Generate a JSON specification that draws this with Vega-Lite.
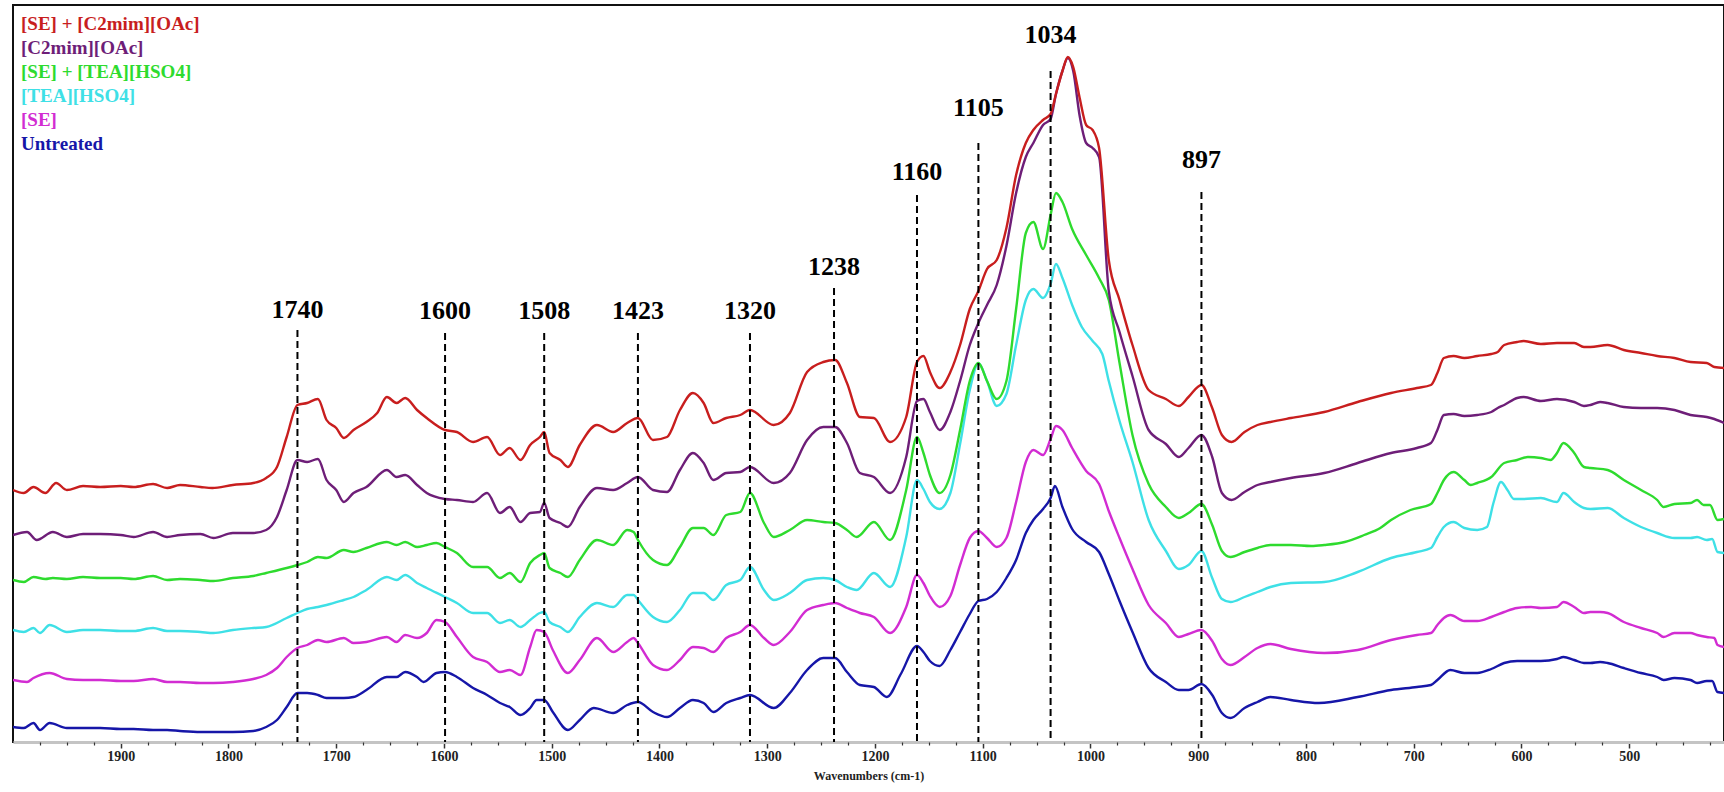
{
"$schema": "https://vega.github.io/schema/vega-lite/v6.json",
"width": 1711,
"height": 737,
"autosize": {"type": "none"},
"padding": {"left": 13, "top": 5, "right": 0, "bottom": 50},
"background": "#ffffff",
"config": {"view": {"stroke": "#111111", "strokeWidth": 2}},
"resolve": {"axis": {"x": "independent"}},
"datasets": {
"peaks": [
{"label":"1740","pos":1736,"top":412,"ly":424},
{"label":"1600","pos":1599,"top":409,"ly":423},
{"label":"1508","pos":1507,"top":409,"ly":423},
{"label":"1423","pos":1420,"top":409,"ly":423},
{"label":"1320","pos":1316,"top":409,"ly":423},
{"label":"1238","pos":1238,"top":454,"ly":467},
{"label":"1160","pos":1161,"top":547,"ly":562},
{"label":"1105","pos":1104,"top":599,"ly":626},
{"label":"1034","pos":1037,"top":671,"ly":699},
{"label":"897","pos":897,"top":550,"ly":574}
],
"spectra": [
{"sample":"Untreated","wavenumber":2000,"absorbance":15},{"sample":"Untreated","wavenumber":1990,"absorbance":14},{"sample":"Untreated","wavenumber":1981,"absorbance":19},{"sample":"Untreated","wavenumber":1975,"absorbance":12},{"sample":"Untreated","wavenumber":1966,"absorbance":19},{"sample":"Untreated","wavenumber":1950,"absorbance":14},{"sample":"Untreated","wavenumber":1935,"absorbance":14},{"sample":"Untreated","wavenumber":1919,"absorbance":14},{"sample":"Untreated","wavenumber":1900,"absorbance":13},{"sample":"Untreated","wavenumber":1888,"absorbance":13},{"sample":"Untreated","wavenumber":1870,"absorbance":12},{"sample":"Untreated","wavenumber":1857,"absorbance":12},{"sample":"Untreated","wavenumber":1845,"absorbance":11},{"sample":"Untreated","wavenumber":1826,"absorbance":10},{"sample":"Untreated","wavenumber":1814,"absorbance":10},{"sample":"Untreated","wavenumber":1796,"absorbance":10},{"sample":"Untreated","wavenumber":1777,"absorbance":11},{"sample":"Untreated","wavenumber":1765,"absorbance":15},{"sample":"Untreated","wavenumber":1755,"absorbance":22},{"sample":"Untreated","wavenumber":1746,"absorbance":35},{"sample":"Untreated","wavenumber":1736,"absorbance":49},{"sample":"Untreated","wavenumber":1727,"absorbance":49},{"sample":"Untreated","wavenumber":1717,"absorbance":47},{"sample":"Untreated","wavenumber":1709,"absorbance":44},{"sample":"Untreated","wavenumber":1693,"absorbance":44},{"sample":"Untreated","wavenumber":1684,"absorbance":45},{"sample":"Untreated","wavenumber":1672,"absorbance":52},{"sample":"Untreated","wavenumber":1653,"absorbance":65},{"sample":"Untreated","wavenumber":1644,"absorbance":65},{"sample":"Untreated","wavenumber":1636,"absorbance":70},{"sample":"Untreated","wavenumber":1625,"absorbance":65},{"sample":"Untreated","wavenumber":1619,"absorbance":60},{"sample":"Untreated","wavenumber":1607,"absorbance":69},{"sample":"Untreated","wavenumber":1599,"absorbance":70},{"sample":"Untreated","wavenumber":1588,"absorbance":65},{"sample":"Untreated","wavenumber":1573,"absorbance":54},{"sample":"Untreated","wavenumber":1560,"absorbance":47},{"sample":"Untreated","wavenumber":1548,"absorbance":39},{"sample":"Untreated","wavenumber":1539,"absorbance":35},{"sample":"Untreated","wavenumber":1529,"absorbance":27},{"sample":"Untreated","wavenumber":1520,"absorbance":34},{"sample":"Untreated","wavenumber":1514,"absorbance":42},{"sample":"Untreated","wavenumber":1507,"absorbance":42},{"sample":"Untreated","wavenumber":1499,"absorbance":30},{"sample":"Untreated","wavenumber":1485,"absorbance":12},{"sample":"Untreated","wavenumber":1474,"absorbance":22},{"sample":"Untreated","wavenumber":1461,"absorbance":34},{"sample":"Untreated","wavenumber":1443,"absorbance":29},{"sample":"Untreated","wavenumber":1430,"absorbance":37},{"sample":"Untreated","wavenumber":1420,"absorbance":40},{"sample":"Untreated","wavenumber":1406,"absorbance":30},{"sample":"Untreated","wavenumber":1393,"absorbance":25},{"sample":"Untreated","wavenumber":1381,"absorbance":34},{"sample":"Untreated","wavenumber":1369,"absorbance":42},{"sample":"Untreated","wavenumber":1359,"absorbance":39},{"sample":"Untreated","wavenumber":1350,"absorbance":30},{"sample":"Untreated","wavenumber":1338,"absorbance":39},{"sample":"Untreated","wavenumber":1325,"absorbance":44},{"sample":"Untreated","wavenumber":1316,"absorbance":47},{"sample":"Untreated","wavenumber":1294,"absorbance":34},{"sample":"Untreated","wavenumber":1279,"absorbance":49},{"sample":"Untreated","wavenumber":1263,"absorbance":72},{"sample":"Untreated","wavenumber":1248,"absorbance":84},{"sample":"Untreated","wavenumber":1237,"absorbance":84},{"sample":"Untreated","wavenumber":1226,"absorbance":70},{"sample":"Untreated","wavenumber":1214,"absorbance":57},{"sample":"Untreated","wavenumber":1201,"absorbance":55},{"sample":"Untreated","wavenumber":1189,"absorbance":45},{"sample":"Untreated","wavenumber":1176,"absorbance":68},{"sample":"Untreated","wavenumber":1161,"absorbance":96},{"sample":"Untreated","wavenumber":1155,"absorbance":90},{"sample":"Untreated","wavenumber":1149,"absorbance":81},{"sample":"Untreated","wavenumber":1140,"absorbance":76},{"sample":"Untreated","wavenumber":1130,"absorbance":92},{"sample":"Untreated","wavenumber":1121,"absorbance":110},{"sample":"Untreated","wavenumber":1112,"absorbance":128},{"sample":"Untreated","wavenumber":1104,"absorbance":141},{"sample":"Untreated","wavenumber":1096,"absorbance":143},{"sample":"Untreated","wavenumber":1087,"absorbance":150},{"sample":"Untreated","wavenumber":1078,"absorbance":164},{"sample":"Untreated","wavenumber":1069,"absorbance":182},{"sample":"Untreated","wavenumber":1060,"absorbance":209},{"sample":"Untreated","wavenumber":1053,"absorbance":222},{"sample":"Untreated","wavenumber":1044,"absorbance":233},{"sample":"Untreated","wavenumber":1037,"absorbance":244},{"sample":"Untreated","wavenumber":1033,"absorbance":256},{"sample":"Untreated","wavenumber":1026,"absorbance":235},{"sample":"Untreated","wavenumber":1017,"absorbance":213},{"sample":"Untreated","wavenumber":1004,"absorbance":200},{"sample":"Untreated","wavenumber":992,"absorbance":190},{"sample":"Untreated","wavenumber":983,"absorbance":168},{"sample":"Untreated","wavenumber":973,"absorbance":141},{"sample":"Untreated","wavenumber":961,"absorbance":110},{"sample":"Untreated","wavenumber":946,"absorbance":74},{"sample":"Untreated","wavenumber":930,"absorbance":60},{"sample":"Untreated","wavenumber":918,"absorbance":52},{"sample":"Untreated","wavenumber":909,"absorbance":52},{"sample":"Untreated","wavenumber":897,"absorbance":58},{"sample":"Untreated","wavenumber":887,"absorbance":47},{"sample":"Untreated","wavenumber":878,"absorbance":29},{"sample":"Untreated","wavenumber":870,"absorbance":24},{"sample":"Untreated","wavenumber":857,"absorbance":34},{"sample":"Untreated","wavenumber":845,"absorbance":40},{"sample":"Untreated","wavenumber":833,"absorbance":45},{"sample":"Untreated","wavenumber":814,"absorbance":42},{"sample":"Untreated","wavenumber":788,"absorbance":39},{"sample":"Untreated","wavenumber":752,"absorbance":45},{"sample":"Untreated","wavenumber":721,"absorbance":52},{"sample":"Untreated","wavenumber":697,"absorbance":55},{"sample":"Untreated","wavenumber":684,"absorbance":57},{"sample":"Untreated","wavenumber":678,"absorbance":62},{"sample":"Untreated","wavenumber":666,"absorbance":72},{"sample":"Untreated","wavenumber":653,"absorbance":69},{"sample":"Untreated","wavenumber":641,"absorbance":69},{"sample":"Untreated","wavenumber":628,"absorbance":73},{"sample":"Untreated","wavenumber":616,"absorbance":79},{"sample":"Untreated","wavenumber":604,"absorbance":81},{"sample":"Untreated","wavenumber":582,"absorbance":81},{"sample":"Untreated","wavenumber":567,"absorbance":83},{"sample":"Untreated","wavenumber":561,"absorbance":85},{"sample":"Untreated","wavenumber":551,"absorbance":82},{"sample":"Untreated","wavenumber":542,"absorbance":79},{"sample":"Untreated","wavenumber":536,"absorbance":79},{"sample":"Untreated","wavenumber":527,"absorbance":80},{"sample":"Untreated","wavenumber":520,"absorbance":79},{"sample":"Untreated","wavenumber":505,"absorbance":74},{"sample":"Untreated","wavenumber":489,"absorbance":69},{"sample":"Untreated","wavenumber":474,"absorbance":65},{"sample":"Untreated","wavenumber":468,"absorbance":62},{"sample":"Untreated","wavenumber":458,"absorbance":64},{"sample":"Untreated","wavenumber":443,"absorbance":62},{"sample":"Untreated","wavenumber":437,"absorbance":59},{"sample":"Untreated","wavenumber":428,"absorbance":61},{"sample":"Untreated","wavenumber":423,"absorbance":61},{"sample":"Untreated","wavenumber":418,"absorbance":50},{"sample":"Untreated","wavenumber":412,"absorbance":49},

{"sample":"[SE]","wavenumber":2000,"absorbance":62},{"sample":"[SE]","wavenumber":1987,"absorbance":60},{"sample":"[SE]","wavenumber":1981,"absorbance":64},{"sample":"[SE]","wavenumber":1966,"absorbance":69},{"sample":"[SE]","wavenumber":1950,"absorbance":63},{"sample":"[SE]","wavenumber":1935,"absorbance":62},{"sample":"[SE]","wavenumber":1919,"absorbance":62},{"sample":"[SE]","wavenumber":1900,"absorbance":61},{"sample":"[SE]","wavenumber":1888,"absorbance":61},{"sample":"[SE]","wavenumber":1870,"absorbance":63},{"sample":"[SE]","wavenumber":1857,"absorbance":60},{"sample":"[SE]","wavenumber":1845,"absorbance":60},{"sample":"[SE]","wavenumber":1826,"absorbance":59},{"sample":"[SE]","wavenumber":1814,"absorbance":59},{"sample":"[SE]","wavenumber":1796,"absorbance":60},{"sample":"[SE]","wavenumber":1777,"absorbance":63},{"sample":"[SE]","wavenumber":1765,"absorbance":67},{"sample":"[SE]","wavenumber":1755,"absorbance":74},{"sample":"[SE]","wavenumber":1746,"absorbance":85},{"sample":"[SE]","wavenumber":1736,"absorbance":94},{"sample":"[SE]","wavenumber":1727,"absorbance":97},{"sample":"[SE]","wavenumber":1717,"absorbance":102},{"sample":"[SE]","wavenumber":1709,"absorbance":100},{"sample":"[SE]","wavenumber":1693,"absorbance":104},{"sample":"[SE]","wavenumber":1684,"absorbance":99},{"sample":"[SE]","wavenumber":1672,"absorbance":100},{"sample":"[SE]","wavenumber":1653,"absorbance":105},{"sample":"[SE]","wavenumber":1644,"absorbance":100},{"sample":"[SE]","wavenumber":1636,"absorbance":107},{"sample":"[SE]","wavenumber":1625,"absorbance":104},{"sample":"[SE]","wavenumber":1616,"absorbance":109},{"sample":"[SE]","wavenumber":1607,"absorbance":122},{"sample":"[SE]","wavenumber":1599,"absorbance":120},{"sample":"[SE]","wavenumber":1588,"absorbance":105},{"sample":"[SE]","wavenumber":1573,"absorbance":85},{"sample":"[SE]","wavenumber":1560,"absorbance":80},{"sample":"[SE]","wavenumber":1548,"absorbance":70},{"sample":"[SE]","wavenumber":1539,"absorbance":72},{"sample":"[SE]","wavenumber":1529,"absorbance":67},{"sample":"[SE]","wavenumber":1520,"absorbance":95},{"sample":"[SE]","wavenumber":1514,"absorbance":112},{"sample":"[SE]","wavenumber":1507,"absorbance":110},{"sample":"[SE]","wavenumber":1499,"absorbance":92},{"sample":"[SE]","wavenumber":1485,"absorbance":69},{"sample":"[SE]","wavenumber":1474,"absorbance":82},{"sample":"[SE]","wavenumber":1458,"absorbance":104},{"sample":"[SE]","wavenumber":1443,"absorbance":90},{"sample":"[SE]","wavenumber":1430,"absorbance":100},{"sample":"[SE]","wavenumber":1424,"absorbance":104},{"sample":"[SE]","wavenumber":1420,"absorbance":99},{"sample":"[SE]","wavenumber":1406,"absorbance":77},{"sample":"[SE]","wavenumber":1393,"absorbance":72},{"sample":"[SE]","wavenumber":1381,"absorbance":82},{"sample":"[SE]","wavenumber":1369,"absorbance":95},{"sample":"[SE]","wavenumber":1359,"absorbance":94},{"sample":"[SE]","wavenumber":1350,"absorbance":90},{"sample":"[SE]","wavenumber":1338,"absorbance":104},{"sample":"[SE]","wavenumber":1325,"absorbance":110},{"sample":"[SE]","wavenumber":1316,"absorbance":117},{"sample":"[SE]","wavenumber":1303,"absorbance":104},{"sample":"[SE]","wavenumber":1294,"absorbance":97},{"sample":"[SE]","wavenumber":1279,"absorbance":110},{"sample":"[SE]","wavenumber":1263,"absorbance":132},{"sample":"[SE]","wavenumber":1248,"absorbance":137},{"sample":"[SE]","wavenumber":1237,"absorbance":139},{"sample":"[SE]","wavenumber":1226,"absorbance":134},{"sample":"[SE]","wavenumber":1214,"absorbance":129},{"sample":"[SE]","wavenumber":1201,"absorbance":125},{"sample":"[SE]","wavenumber":1186,"absorbance":109},{"sample":"[SE]","wavenumber":1171,"absorbance":135},{"sample":"[SE]","wavenumber":1161,"absorbance":167},{"sample":"[SE]","wavenumber":1155,"absorbance":159},{"sample":"[SE]","wavenumber":1149,"absorbance":146},{"sample":"[SE]","wavenumber":1140,"absorbance":135},{"sample":"[SE]","wavenumber":1130,"absorbance":146},{"sample":"[SE]","wavenumber":1121,"absorbance":177},{"sample":"[SE]","wavenumber":1112,"absorbance":204},{"sample":"[SE]","wavenumber":1104,"absorbance":211},{"sample":"[SE]","wavenumber":1096,"absorbance":204},{"sample":"[SE]","wavenumber":1087,"absorbance":195},{"sample":"[SE]","wavenumber":1078,"absorbance":204},{"sample":"[SE]","wavenumber":1069,"absorbance":240},{"sample":"[SE]","wavenumber":1060,"absorbance":280},{"sample":"[SE]","wavenumber":1053,"absorbance":292},{"sample":"[SE]","wavenumber":1044,"absorbance":287},{"sample":"[SE]","wavenumber":1037,"absorbance":303},{"sample":"[SE]","wavenumber":1032,"absorbance":316},{"sample":"[SE]","wavenumber":1026,"absorbance":312},{"sample":"[SE]","wavenumber":1017,"absorbance":294},{"sample":"[SE]","wavenumber":1004,"absorbance":271},{"sample":"[SE]","wavenumber":992,"absorbance":258},{"sample":"[SE]","wavenumber":983,"absorbance":231},{"sample":"[SE]","wavenumber":973,"absorbance":204},{"sample":"[SE]","wavenumber":961,"absorbance":173},{"sample":"[SE]","wavenumber":946,"absorbance":137},{"sample":"[SE]","wavenumber":930,"absorbance":119},{"sample":"[SE]","wavenumber":918,"absorbance":105},{"sample":"[SE]","wavenumber":909,"absorbance":108},{"sample":"[SE]","wavenumber":897,"absorbance":112},{"sample":"[SE]","wavenumber":887,"absorbance":101},{"sample":"[SE]","wavenumber":878,"absorbance":83},{"sample":"[SE]","wavenumber":870,"absorbance":77},{"sample":"[SE]","wavenumber":857,"absorbance":85},{"sample":"[SE]","wavenumber":845,"absorbance":94},{"sample":"[SE]","wavenumber":833,"absorbance":98},{"sample":"[SE]","wavenumber":814,"absorbance":93},{"sample":"[SE]","wavenumber":783,"absorbance":89},{"sample":"[SE]","wavenumber":752,"absorbance":92},{"sample":"[SE]","wavenumber":721,"absorbance":102},{"sample":"[SE]","wavenumber":697,"absorbance":107},{"sample":"[SE]","wavenumber":684,"absorbance":109},{"sample":"[SE]","wavenumber":678,"absorbance":117},{"sample":"[SE]","wavenumber":672,"absorbance":124},{"sample":"[SE]","wavenumber":666,"absorbance":127},{"sample":"[SE]","wavenumber":653,"absorbance":121},{"sample":"[SE]","wavenumber":641,"absorbance":121},{"sample":"[SE]","wavenumber":628,"absorbance":125},{"sample":"[SE]","wavenumber":616,"absorbance":130},{"sample":"[SE]","wavenumber":604,"absorbance":134},{"sample":"[SE]","wavenumber":591,"absorbance":135},{"sample":"[SE]","wavenumber":582,"absorbance":134},{"sample":"[SE]","wavenumber":567,"absorbance":135},{"sample":"[SE]","wavenumber":561,"absorbance":140},{"sample":"[SE]","wavenumber":551,"absorbance":135},{"sample":"[SE]","wavenumber":542,"absorbance":129},{"sample":"[SE]","wavenumber":536,"absorbance":130},{"sample":"[SE]","wavenumber":527,"absorbance":130},{"sample":"[SE]","wavenumber":520,"absorbance":129},{"sample":"[SE]","wavenumber":505,"absorbance":120},{"sample":"[SE]","wavenumber":489,"absorbance":114},{"sample":"[SE]","wavenumber":474,"absorbance":109},{"sample":"[SE]","wavenumber":468,"absorbance":105},{"sample":"[SE]","wavenumber":458,"absorbance":109},{"sample":"[SE]","wavenumber":443,"absorbance":109},{"sample":"[SE]","wavenumber":437,"absorbance":107},{"sample":"[SE]","wavenumber":428,"absorbance":105},{"sample":"[SE]","wavenumber":421,"absorbance":104},{"sample":"[SE]","wavenumber":418,"absorbance":97},{"sample":"[SE]","wavenumber":412,"absorbance":95},

{"sample":"[TEA][HSO4]","wavenumber":2000,"absorbance":112},{"sample":"[TEA][HSO4]","wavenumber":1990,"absorbance":110},{"sample":"[TEA][HSO4]","wavenumber":1981,"absorbance":114},{"sample":"[TEA][HSO4]","wavenumber":1975,"absorbance":109},{"sample":"[TEA][HSO4]","wavenumber":1966,"absorbance":117},{"sample":"[TEA][HSO4]","wavenumber":1950,"absorbance":110},{"sample":"[TEA][HSO4]","wavenumber":1935,"absorbance":112},{"sample":"[TEA][HSO4]","wavenumber":1919,"absorbance":112},{"sample":"[TEA][HSO4]","wavenumber":1900,"absorbance":111},{"sample":"[TEA][HSO4]","wavenumber":1888,"absorbance":111},{"sample":"[TEA][HSO4]","wavenumber":1870,"absorbance":114},{"sample":"[TEA][HSO4]","wavenumber":1857,"absorbance":111},{"sample":"[TEA][HSO4]","wavenumber":1845,"absorbance":111},{"sample":"[TEA][HSO4]","wavenumber":1826,"absorbance":110},{"sample":"[TEA][HSO4]","wavenumber":1814,"absorbance":109},{"sample":"[TEA][HSO4]","wavenumber":1796,"absorbance":112},{"sample":"[TEA][HSO4]","wavenumber":1777,"absorbance":114},{"sample":"[TEA][HSO4]","wavenumber":1765,"absorbance":115},{"sample":"[TEA][HSO4]","wavenumber":1746,"absorbance":124},{"sample":"[TEA][HSO4]","wavenumber":1736,"absorbance":129},{"sample":"[TEA][HSO4]","wavenumber":1727,"absorbance":133},{"sample":"[TEA][HSO4]","wavenumber":1717,"absorbance":135},{"sample":"[TEA][HSO4]","wavenumber":1709,"absorbance":137},{"sample":"[TEA][HSO4]","wavenumber":1693,"absorbance":142},{"sample":"[TEA][HSO4]","wavenumber":1684,"absorbance":145},{"sample":"[TEA][HSO4]","wavenumber":1672,"absorbance":152},{"sample":"[TEA][HSO4]","wavenumber":1653,"absorbance":165},{"sample":"[TEA][HSO4]","wavenumber":1644,"absorbance":162},{"sample":"[TEA][HSO4]","wavenumber":1636,"absorbance":167},{"sample":"[TEA][HSO4]","wavenumber":1625,"absorbance":159},{"sample":"[TEA][HSO4]","wavenumber":1616,"absorbance":154},{"sample":"[TEA][HSO4]","wavenumber":1599,"absorbance":145},{"sample":"[TEA][HSO4]","wavenumber":1588,"absorbance":139},{"sample":"[TEA][HSO4]","wavenumber":1573,"absorbance":129},{"sample":"[TEA][HSO4]","wavenumber":1560,"absorbance":129},{"sample":"[TEA][HSO4]","wavenumber":1548,"absorbance":119},{"sample":"[TEA][HSO4]","wavenumber":1539,"absorbance":122},{"sample":"[TEA][HSO4]","wavenumber":1529,"absorbance":115},{"sample":"[TEA][HSO4]","wavenumber":1520,"absorbance":122},{"sample":"[TEA][HSO4]","wavenumber":1511,"absorbance":129},{"sample":"[TEA][HSO4]","wavenumber":1507,"absorbance":130},{"sample":"[TEA][HSO4]","wavenumber":1502,"absorbance":120},{"sample":"[TEA][HSO4]","wavenumber":1492,"absorbance":115},{"sample":"[TEA][HSO4]","wavenumber":1485,"absorbance":110},{"sample":"[TEA][HSO4]","wavenumber":1474,"absorbance":125},{"sample":"[TEA][HSO4]","wavenumber":1458,"absorbance":139},{"sample":"[TEA][HSO4]","wavenumber":1443,"absorbance":135},{"sample":"[TEA][HSO4]","wavenumber":1430,"absorbance":147},{"sample":"[TEA][HSO4]","wavenumber":1424,"absorbance":147},{"sample":"[TEA][HSO4]","wavenumber":1420,"absorbance":142},{"sample":"[TEA][HSO4]","wavenumber":1406,"absorbance":125},{"sample":"[TEA][HSO4]","wavenumber":1393,"absorbance":120},{"sample":"[TEA][HSO4]","wavenumber":1381,"absorbance":132},{"sample":"[TEA][HSO4]","wavenumber":1369,"absorbance":149},{"sample":"[TEA][HSO4]","wavenumber":1359,"absorbance":149},{"sample":"[TEA][HSO4]","wavenumber":1350,"absorbance":142},{"sample":"[TEA][HSO4]","wavenumber":1338,"absorbance":157},{"sample":"[TEA][HSO4]","wavenumber":1325,"absorbance":162},{"sample":"[TEA][HSO4]","wavenumber":1316,"absorbance":175},{"sample":"[TEA][HSO4]","wavenumber":1303,"absorbance":152},{"sample":"[TEA][HSO4]","wavenumber":1294,"absorbance":142},{"sample":"[TEA][HSO4]","wavenumber":1279,"absorbance":149},{"sample":"[TEA][HSO4]","wavenumber":1263,"absorbance":162},{"sample":"[TEA][HSO4]","wavenumber":1248,"absorbance":164},{"sample":"[TEA][HSO4]","wavenumber":1237,"absorbance":162},{"sample":"[TEA][HSO4]","wavenumber":1226,"absorbance":155},{"sample":"[TEA][HSO4]","wavenumber":1217,"absorbance":152},{"sample":"[TEA][HSO4]","wavenumber":1201,"absorbance":169},{"sample":"[TEA][HSO4]","wavenumber":1186,"absorbance":155},{"sample":"[TEA][HSO4]","wavenumber":1171,"absorbance":205},{"sample":"[TEA][HSO4]","wavenumber":1161,"absorbance":262},{"sample":"[TEA][HSO4]","wavenumber":1155,"absorbance":253},{"sample":"[TEA][HSO4]","wavenumber":1149,"absorbance":240},{"sample":"[TEA][HSO4]","wavenumber":1140,"absorbance":233},{"sample":"[TEA][HSO4]","wavenumber":1130,"absorbance":249},{"sample":"[TEA][HSO4]","wavenumber":1121,"absorbance":298},{"sample":"[TEA][HSO4]","wavenumber":1112,"absorbance":352},{"sample":"[TEA][HSO4]","wavenumber":1104,"absorbance":379},{"sample":"[TEA][HSO4]","wavenumber":1096,"absorbance":361},{"sample":"[TEA][HSO4]","wavenumber":1087,"absorbance":336},{"sample":"[TEA][HSO4]","wavenumber":1078,"absorbance":348},{"sample":"[TEA][HSO4]","wavenumber":1069,"absorbance":397},{"sample":"[TEA][HSO4]","wavenumber":1060,"absorbance":442},{"sample":"[TEA][HSO4]","wavenumber":1053,"absorbance":453},{"sample":"[TEA][HSO4]","wavenumber":1044,"absorbance":444},{"sample":"[TEA][HSO4]","wavenumber":1037,"absorbance":458},{"sample":"[TEA][HSO4]","wavenumber":1032,"absorbance":478},{"sample":"[TEA][HSO4]","wavenumber":1026,"absorbance":464},{"sample":"[TEA][HSO4]","wavenumber":1017,"absorbance":437},{"sample":"[TEA][HSO4]","wavenumber":1008,"absorbance":415},{"sample":"[TEA][HSO4]","wavenumber":998,"absorbance":401},{"sample":"[TEA][HSO4]","wavenumber":989,"absorbance":388},{"sample":"[TEA][HSO4]","wavenumber":983,"absorbance":361},{"sample":"[TEA][HSO4]","wavenumber":973,"absorbance":321},{"sample":"[TEA][HSO4]","wavenumber":961,"absorbance":280},{"sample":"[TEA][HSO4]","wavenumber":946,"absorbance":222},{"sample":"[TEA][HSO4]","wavenumber":930,"absorbance":191},{"sample":"[TEA][HSO4]","wavenumber":918,"absorbance":173},{"sample":"[TEA][HSO4]","wavenumber":909,"absorbance":177},{"sample":"[TEA][HSO4]","wavenumber":897,"absorbance":191},{"sample":"[TEA][HSO4]","wavenumber":887,"absorbance":164},{"sample":"[TEA][HSO4]","wavenumber":878,"absorbance":143},{"sample":"[TEA][HSO4]","wavenumber":870,"absorbance":140},{"sample":"[TEA][HSO4]","wavenumber":857,"absorbance":145},{"sample":"[TEA][HSO4]","wavenumber":845,"absorbance":150},{"sample":"[TEA][HSO4]","wavenumber":833,"absorbance":155},{"sample":"[TEA][HSO4]","wavenumber":814,"absorbance":159},{"sample":"[TEA][HSO4]","wavenumber":783,"absorbance":160},{"sample":"[TEA][HSO4]","wavenumber":752,"absorbance":170},{"sample":"[TEA][HSO4]","wavenumber":721,"absorbance":184},{"sample":"[TEA][HSO4]","wavenumber":697,"absorbance":190},{"sample":"[TEA][HSO4]","wavenumber":684,"absorbance":194},{"sample":"[TEA][HSO4]","wavenumber":678,"absorbance":205},{"sample":"[TEA][HSO4]","wavenumber":672,"absorbance":215},{"sample":"[TEA][HSO4]","wavenumber":663,"absorbance":220},{"sample":"[TEA][HSO4]","wavenumber":653,"absorbance":214},{"sample":"[TEA][HSO4]","wavenumber":641,"absorbance":212},{"sample":"[TEA][HSO4]","wavenumber":632,"absorbance":215},{"sample":"[TEA][HSO4]","wavenumber":626,"absorbance":239},{"sample":"[TEA][HSO4]","wavenumber":619,"absorbance":260},{"sample":"[TEA][HSO4]","wavenumber":613,"absorbance":252},{"sample":"[TEA][HSO4]","wavenumber":607,"absorbance":243},{"sample":"[TEA][HSO4]","wavenumber":598,"absorbance":243},{"sample":"[TEA][HSO4]","wavenumber":582,"absorbance":244},{"sample":"[TEA][HSO4]","wavenumber":567,"absorbance":240},{"sample":"[TEA][HSO4]","wavenumber":561,"absorbance":249},{"sample":"[TEA][HSO4]","wavenumber":551,"absorbance":240},{"sample":"[TEA][HSO4]","wavenumber":542,"absorbance":234},{"sample":"[TEA][HSO4]","wavenumber":536,"absorbance":233},{"sample":"[TEA][HSO4]","wavenumber":520,"absorbance":234},{"sample":"[TEA][HSO4]","wavenumber":505,"absorbance":224},{"sample":"[TEA][HSO4]","wavenumber":489,"absorbance":215},{"sample":"[TEA][HSO4]","wavenumber":474,"absorbance":209},{"sample":"[TEA][HSO4]","wavenumber":458,"absorbance":204},{"sample":"[TEA][HSO4]","wavenumber":443,"absorbance":204},{"sample":"[TEA][HSO4]","wavenumber":437,"absorbance":205},{"sample":"[TEA][HSO4]","wavenumber":428,"absorbance":202},{"sample":"[TEA][HSO4]","wavenumber":423,"absorbance":203},{"sample":"[TEA][HSO4]","wavenumber":418,"absorbance":190},{"sample":"[TEA][HSO4]","wavenumber":412,"absorbance":189},

{"sample":"[SE] + [TEA][HSO4]","wavenumber":2000,"absorbance":162},{"sample":"[SE] + [TEA][HSO4]","wavenumber":1990,"absorbance":160},{"sample":"[SE] + [TEA][HSO4]","wavenumber":1981,"absorbance":165},{"sample":"[SE] + [TEA][HSO4]","wavenumber":1970,"absorbance":163},{"sample":"[SE] + [TEA][HSO4]","wavenumber":1963,"absorbance":164},{"sample":"[SE] + [TEA][HSO4]","wavenumber":1950,"absorbance":163},{"sample":"[SE] + [TEA][HSO4]","wavenumber":1935,"absorbance":165},{"sample":"[SE] + [TEA][HSO4]","wavenumber":1919,"absorbance":164},{"sample":"[SE] + [TEA][HSO4]","wavenumber":1900,"absorbance":164},{"sample":"[SE] + [TEA][HSO4]","wavenumber":1888,"absorbance":163},{"sample":"[SE] + [TEA][HSO4]","wavenumber":1870,"absorbance":166},{"sample":"[SE] + [TEA][HSO4]","wavenumber":1857,"absorbance":162},{"sample":"[SE] + [TEA][HSO4]","wavenumber":1845,"absorbance":163},{"sample":"[SE] + [TEA][HSO4]","wavenumber":1826,"absorbance":162},{"sample":"[SE] + [TEA][HSO4]","wavenumber":1814,"absorbance":161},{"sample":"[SE] + [TEA][HSO4]","wavenumber":1796,"absorbance":164},{"sample":"[SE] + [TEA][HSO4]","wavenumber":1777,"absorbance":166},{"sample":"[SE] + [TEA][HSO4]","wavenumber":1765,"absorbance":169},{"sample":"[SE] + [TEA][HSO4]","wavenumber":1746,"absorbance":174},{"sample":"[SE] + [TEA][HSO4]","wavenumber":1736,"absorbance":177},{"sample":"[SE] + [TEA][HSO4]","wavenumber":1727,"absorbance":180},{"sample":"[SE] + [TEA][HSO4]","wavenumber":1717,"absorbance":185},{"sample":"[SE] + [TEA][HSO4]","wavenumber":1709,"absorbance":184},{"sample":"[SE] + [TEA][HSO4]","wavenumber":1693,"absorbance":192},{"sample":"[SE] + [TEA][HSO4]","wavenumber":1684,"absorbance":190},{"sample":"[SE] + [TEA][HSO4]","wavenumber":1672,"absorbance":194},{"sample":"[SE] + [TEA][HSO4]","wavenumber":1653,"absorbance":200},{"sample":"[SE] + [TEA][HSO4]","wavenumber":1644,"absorbance":197},{"sample":"[SE] + [TEA][HSO4]","wavenumber":1636,"absorbance":200},{"sample":"[SE] + [TEA][HSO4]","wavenumber":1625,"absorbance":195},{"sample":"[SE] + [TEA][HSO4]","wavenumber":1616,"absorbance":197},{"sample":"[SE] + [TEA][HSO4]","wavenumber":1607,"absorbance":199},{"sample":"[SE] + [TEA][HSO4]","wavenumber":1599,"absorbance":195},{"sample":"[SE] + [TEA][HSO4]","wavenumber":1588,"absorbance":189},{"sample":"[SE] + [TEA][HSO4]","wavenumber":1573,"absorbance":175},{"sample":"[SE] + [TEA][HSO4]","wavenumber":1560,"absorbance":175},{"sample":"[SE] + [TEA][HSO4]","wavenumber":1548,"absorbance":164},{"sample":"[SE] + [TEA][HSO4]","wavenumber":1539,"absorbance":169},{"sample":"[SE] + [TEA][HSO4]","wavenumber":1529,"absorbance":160},{"sample":"[SE] + [TEA][HSO4]","wavenumber":1520,"absorbance":179},{"sample":"[SE] + [TEA][HSO4]","wavenumber":1511,"absorbance":187},{"sample":"[SE] + [TEA][HSO4]","wavenumber":1507,"absorbance":189},{"sample":"[SE] + [TEA][HSO4]","wavenumber":1502,"absorbance":174},{"sample":"[SE] + [TEA][HSO4]","wavenumber":1492,"absorbance":169},{"sample":"[SE] + [TEA][HSO4]","wavenumber":1485,"absorbance":165},{"sample":"[SE] + [TEA][HSO4]","wavenumber":1474,"absorbance":182},{"sample":"[SE] + [TEA][HSO4]","wavenumber":1458,"absorbance":202},{"sample":"[SE] + [TEA][HSO4]","wavenumber":1443,"absorbance":197},{"sample":"[SE] + [TEA][HSO4]","wavenumber":1430,"absorbance":212},{"sample":"[SE] + [TEA][HSO4]","wavenumber":1424,"absorbance":210},{"sample":"[SE] + [TEA][HSO4]","wavenumber":1420,"absorbance":202},{"sample":"[SE] + [TEA][HSO4]","wavenumber":1406,"absorbance":182},{"sample":"[SE] + [TEA][HSO4]","wavenumber":1393,"absorbance":177},{"sample":"[SE] + [TEA][HSO4]","wavenumber":1381,"absorbance":195},{"sample":"[SE] + [TEA][HSO4]","wavenumber":1369,"absorbance":214},{"sample":"[SE] + [TEA][HSO4]","wavenumber":1359,"absorbance":214},{"sample":"[SE] + [TEA][HSO4]","wavenumber":1350,"absorbance":207},{"sample":"[SE] + [TEA][HSO4]","wavenumber":1338,"absorbance":227},{"sample":"[SE] + [TEA][HSO4]","wavenumber":1325,"absorbance":230},{"sample":"[SE] + [TEA][HSO4]","wavenumber":1316,"absorbance":249},{"sample":"[SE] + [TEA][HSO4]","wavenumber":1303,"absorbance":219},{"sample":"[SE] + [TEA][HSO4]","wavenumber":1294,"absorbance":205},{"sample":"[SE] + [TEA][HSO4]","wavenumber":1279,"absorbance":212},{"sample":"[SE] + [TEA][HSO4]","wavenumber":1263,"absorbance":222},{"sample":"[SE] + [TEA][HSO4]","wavenumber":1248,"absorbance":220},{"sample":"[SE] + [TEA][HSO4]","wavenumber":1237,"absorbance":219},{"sample":"[SE] + [TEA][HSO4]","wavenumber":1226,"absorbance":212},{"sample":"[SE] + [TEA][HSO4]","wavenumber":1217,"absorbance":205},{"sample":"[SE] + [TEA][HSO4]","wavenumber":1201,"absorbance":220},{"sample":"[SE] + [TEA][HSO4]","wavenumber":1186,"absorbance":202},{"sample":"[SE] + [TEA][HSO4]","wavenumber":1171,"absorbance":252},{"sample":"[SE] + [TEA][HSO4]","wavenumber":1161,"absorbance":305},{"sample":"[SE] + [TEA][HSO4]","wavenumber":1155,"absorbance":289},{"sample":"[SE] + [TEA][HSO4]","wavenumber":1149,"absorbance":267},{"sample":"[SE] + [TEA][HSO4]","wavenumber":1140,"absorbance":249},{"sample":"[SE] + [TEA][HSO4]","wavenumber":1130,"absorbance":267},{"sample":"[SE] + [TEA][HSO4]","wavenumber":1121,"absorbance":312},{"sample":"[SE] + [TEA][HSO4]","wavenumber":1112,"absorbance":361},{"sample":"[SE] + [TEA][HSO4]","wavenumber":1104,"absorbance":379},{"sample":"[SE] + [TEA][HSO4]","wavenumber":1096,"absorbance":361},{"sample":"[SE] + [TEA][HSO4]","wavenumber":1087,"absorbance":343},{"sample":"[SE] + [TEA][HSO4]","wavenumber":1078,"absorbance":361},{"sample":"[SE] + [TEA][HSO4]","wavenumber":1069,"absorbance":433},{"sample":"[SE] + [TEA][HSO4]","wavenumber":1060,"absorbance":509},{"sample":"[SE] + [TEA][HSO4]","wavenumber":1053,"absorbance":520},{"sample":"[SE] + [TEA][HSO4]","wavenumber":1044,"absorbance":493},{"sample":"[SE] + [TEA][HSO4]","wavenumber":1037,"absorbance":527},{"sample":"[SE] + [TEA][HSO4]","wavenumber":1032,"absorbance":549},{"sample":"[SE] + [TEA][HSO4]","wavenumber":1026,"absorbance":540},{"sample":"[SE] + [TEA][HSO4]","wavenumber":1017,"absorbance":513},{"sample":"[SE] + [TEA][HSO4]","wavenumber":1004,"absorbance":487},{"sample":"[SE] + [TEA][HSO4]","wavenumber":992,"absorbance":464},{"sample":"[SE] + [TEA][HSO4]","wavenumber":983,"absorbance":442},{"sample":"[SE] + [TEA][HSO4]","wavenumber":973,"absorbance":379},{"sample":"[SE] + [TEA][HSO4]","wavenumber":961,"absorbance":307},{"sample":"[SE] + [TEA][HSO4]","wavenumber":946,"absorbance":258},{"sample":"[SE] + [TEA][HSO4]","wavenumber":930,"absorbance":235},{"sample":"[SE] + [TEA][HSO4]","wavenumber":918,"absorbance":224},{"sample":"[SE] + [TEA][HSO4]","wavenumber":909,"absorbance":229},{"sample":"[SE] + [TEA][HSO4]","wavenumber":897,"absorbance":238},{"sample":"[SE] + [TEA][HSO4]","wavenumber":887,"absorbance":217},{"sample":"[SE] + [TEA][HSO4]","wavenumber":878,"absorbance":191},{"sample":"[SE] + [TEA][HSO4]","wavenumber":870,"absorbance":185},{"sample":"[SE] + [TEA][HSO4]","wavenumber":857,"absorbance":190},{"sample":"[SE] + [TEA][HSO4]","wavenumber":845,"absorbance":194},{"sample":"[SE] + [TEA][HSO4]","wavenumber":833,"absorbance":197},{"sample":"[SE] + [TEA][HSO4]","wavenumber":814,"absorbance":197},{"sample":"[SE] + [TEA][HSO4]","wavenumber":795,"absorbance":196},{"sample":"[SE] + [TEA][HSO4]","wavenumber":783,"absorbance":197},{"sample":"[SE] + [TEA][HSO4]","wavenumber":764,"absorbance":200},{"sample":"[SE] + [TEA][HSO4]","wavenumber":746,"absorbance":207},{"sample":"[SE] + [TEA][HSO4]","wavenumber":731,"absorbance":214},{"sample":"[SE] + [TEA][HSO4]","wavenumber":721,"absorbance":222},{"sample":"[SE] + [TEA][HSO4]","wavenumber":703,"absorbance":232},{"sample":"[SE] + [TEA][HSO4]","wavenumber":684,"absorbance":238},{"sample":"[SE] + [TEA][HSO4]","wavenumber":678,"absorbance":249},{"sample":"[SE] + [TEA][HSO4]","wavenumber":672,"absorbance":262},{"sample":"[SE] + [TEA][HSO4]","wavenumber":663,"absorbance":270},{"sample":"[SE] + [TEA][HSO4]","wavenumber":653,"absorbance":262},{"sample":"[SE] + [TEA][HSO4]","wavenumber":647,"absorbance":257},{"sample":"[SE] + [TEA][HSO4]","wavenumber":641,"absorbance":259},{"sample":"[SE] + [TEA][HSO4]","wavenumber":628,"absorbance":265},{"sample":"[SE] + [TEA][HSO4]","wavenumber":616,"absorbance":279},{"sample":"[SE] + [TEA][HSO4]","wavenumber":604,"absorbance":282},{"sample":"[SE] + [TEA][HSO4]","wavenumber":594,"absorbance":285},{"sample":"[SE] + [TEA][HSO4]","wavenumber":582,"absorbance":284},{"sample":"[SE] + [TEA][HSO4]","wavenumber":573,"absorbance":282},{"sample":"[SE] + [TEA][HSO4]","wavenumber":567,"absorbance":289},{"sample":"[SE] + [TEA][HSO4]","wavenumber":561,"absorbance":299},{"sample":"[SE] + [TEA][HSO4]","wavenumber":551,"absorbance":289},{"sample":"[SE] + [TEA][HSO4]","wavenumber":542,"absorbance":275},{"sample":"[SE] + [TEA][HSO4]","wavenumber":536,"absorbance":274},{"sample":"[SE] + [TEA][HSO4]","wavenumber":520,"absorbance":272},{"sample":"[SE] + [TEA][HSO4]","wavenumber":505,"absorbance":262},{"sample":"[SE] + [TEA][HSO4]","wavenumber":489,"absorbance":252},{"sample":"[SE] + [TEA][HSO4]","wavenumber":474,"absorbance":242},{"sample":"[SE] + [TEA][HSO4]","wavenumber":468,"absorbance":235},{"sample":"[SE] + [TEA][HSO4]","wavenumber":458,"absorbance":238},{"sample":"[SE] + [TEA][HSO4]","wavenumber":443,"absorbance":239},{"sample":"[SE] + [TEA][HSO4]","wavenumber":437,"absorbance":242},{"sample":"[SE] + [TEA][HSO4]","wavenumber":431,"absorbance":237},{"sample":"[SE] + [TEA][HSO4]","wavenumber":425,"absorbance":237},{"sample":"[SE] + [TEA][HSO4]","wavenumber":418,"absorbance":222},{"sample":"[SE] + [TEA][HSO4]","wavenumber":412,"absorbance":223},

{"sample":"[C2mim][OAc]","wavenumber":2000,"absorbance":207},{"sample":"[C2mim][OAc]","wavenumber":1987,"absorbance":210},{"sample":"[C2mim][OAc]","wavenumber":1978,"absorbance":202},{"sample":"[C2mim][OAc]","wavenumber":1963,"absorbance":210},{"sample":"[C2mim][OAc]","wavenumber":1950,"absorbance":205},{"sample":"[C2mim][OAc]","wavenumber":1935,"absorbance":208},{"sample":"[C2mim][OAc]","wavenumber":1919,"absorbance":208},{"sample":"[C2mim][OAc]","wavenumber":1900,"absorbance":207},{"sample":"[C2mim][OAc]","wavenumber":1888,"absorbance":205},{"sample":"[C2mim][OAc]","wavenumber":1870,"absorbance":210},{"sample":"[C2mim][OAc]","wavenumber":1857,"absorbance":205},{"sample":"[C2mim][OAc]","wavenumber":1845,"absorbance":207},{"sample":"[C2mim][OAc]","wavenumber":1826,"absorbance":208},{"sample":"[C2mim][OAc]","wavenumber":1814,"absorbance":204},{"sample":"[C2mim][OAc]","wavenumber":1796,"absorbance":209},{"sample":"[C2mim][OAc]","wavenumber":1777,"absorbance":209},{"sample":"[C2mim][OAc]","wavenumber":1765,"absorbance":212},{"sample":"[C2mim][OAc]","wavenumber":1755,"absorbance":225},{"sample":"[C2mim][OAc]","wavenumber":1746,"absorbance":252},{"sample":"[C2mim][OAc]","wavenumber":1736,"absorbance":282},{"sample":"[C2mim][OAc]","wavenumber":1727,"absorbance":280},{"sample":"[C2mim][OAc]","wavenumber":1717,"absorbance":283},{"sample":"[C2mim][OAc]","wavenumber":1709,"absorbance":262},{"sample":"[C2mim][OAc]","wavenumber":1700,"absorbance":252},{"sample":"[C2mim][OAc]","wavenumber":1693,"absorbance":240},{"sample":"[C2mim][OAc]","wavenumber":1684,"absorbance":249},{"sample":"[C2mim][OAc]","wavenumber":1672,"absorbance":255},{"sample":"[C2mim][OAc]","wavenumber":1653,"absorbance":272},{"sample":"[C2mim][OAc]","wavenumber":1644,"absorbance":265},{"sample":"[C2mim][OAc]","wavenumber":1636,"absorbance":267},{"sample":"[C2mim][OAc]","wavenumber":1625,"absorbance":257},{"sample":"[C2mim][OAc]","wavenumber":1616,"absorbance":249},{"sample":"[C2mim][OAc]","wavenumber":1599,"absorbance":243},{"sample":"[C2mim][OAc]","wavenumber":1588,"absorbance":242},{"sample":"[C2mim][OAc]","wavenumber":1573,"absorbance":240},{"sample":"[C2mim][OAc]","wavenumber":1560,"absorbance":249},{"sample":"[C2mim][OAc]","wavenumber":1548,"absorbance":229},{"sample":"[C2mim][OAc]","wavenumber":1539,"absorbance":235},{"sample":"[C2mim][OAc]","wavenumber":1529,"absorbance":220},{"sample":"[C2mim][OAc]","wavenumber":1520,"absorbance":229},{"sample":"[C2mim][OAc]","wavenumber":1511,"absorbance":230},{"sample":"[C2mim][OAc]","wavenumber":1507,"absorbance":239},{"sample":"[C2mim][OAc]","wavenumber":1502,"absorbance":224},{"sample":"[C2mim][OAc]","wavenumber":1492,"absorbance":219},{"sample":"[C2mim][OAc]","wavenumber":1485,"absorbance":215},{"sample":"[C2mim][OAc]","wavenumber":1474,"absorbance":235},{"sample":"[C2mim][OAc]","wavenumber":1458,"absorbance":254},{"sample":"[C2mim][OAc]","wavenumber":1443,"absorbance":252},{"sample":"[C2mim][OAc]","wavenumber":1430,"absorbance":259},{"sample":"[C2mim][OAc]","wavenumber":1420,"absorbance":265},{"sample":"[C2mim][OAc]","wavenumber":1406,"absorbance":252},{"sample":"[C2mim][OAc]","wavenumber":1393,"absorbance":250},{"sample":"[C2mim][OAc]","wavenumber":1381,"absorbance":272},{"sample":"[C2mim][OAc]","wavenumber":1369,"absorbance":289},{"sample":"[C2mim][OAc]","wavenumber":1359,"absorbance":279},{"sample":"[C2mim][OAc]","wavenumber":1350,"absorbance":262},{"sample":"[C2mim][OAc]","wavenumber":1338,"absorbance":269},{"sample":"[C2mim][OAc]","wavenumber":1325,"absorbance":270},{"sample":"[C2mim][OAc]","wavenumber":1316,"absorbance":275},{"sample":"[C2mim][OAc]","wavenumber":1294,"absorbance":259},{"sample":"[C2mim][OAc]","wavenumber":1279,"absorbance":269},{"sample":"[C2mim][OAc]","wavenumber":1263,"absorbance":302},{"sample":"[C2mim][OAc]","wavenumber":1248,"absorbance":315},{"sample":"[C2mim][OAc]","wavenumber":1237,"absorbance":315},{"sample":"[C2mim][OAc]","wavenumber":1226,"absorbance":299},{"sample":"[C2mim][OAc]","wavenumber":1214,"absorbance":269},{"sample":"[C2mim][OAc]","wavenumber":1201,"absorbance":265},{"sample":"[C2mim][OAc]","wavenumber":1186,"absorbance":249},{"sample":"[C2mim][OAc]","wavenumber":1171,"absorbance":285},{"sample":"[C2mim][OAc]","wavenumber":1161,"absorbance":341},{"sample":"[C2mim][OAc]","wavenumber":1155,"absorbance":343},{"sample":"[C2mim][OAc]","wavenumber":1149,"absorbance":330},{"sample":"[C2mim][OAc]","wavenumber":1140,"absorbance":312},{"sample":"[C2mim][OAc]","wavenumber":1130,"absorbance":330},{"sample":"[C2mim][OAc]","wavenumber":1121,"absorbance":361},{"sample":"[C2mim][OAc]","wavenumber":1112,"absorbance":397},{"sample":"[C2mim][OAc]","wavenumber":1104,"absorbance":419},{"sample":"[C2mim][OAc]","wavenumber":1096,"absorbance":437},{"sample":"[C2mim][OAc]","wavenumber":1087,"absorbance":457},{"sample":"[C2mim][OAc]","wavenumber":1078,"absorbance":496},{"sample":"[C2mim][OAc]","wavenumber":1069,"absorbance":549},{"sample":"[C2mim][OAc]","wavenumber":1060,"absorbance":585},{"sample":"[C2mim][OAc]","wavenumber":1053,"absorbance":599},{"sample":"[C2mim][OAc]","wavenumber":1044,"absorbance":617},{"sample":"[C2mim][OAc]","wavenumber":1037,"absorbance":623},{"sample":"[C2mim][OAc]","wavenumber":1032,"absorbance":648},{"sample":"[C2mim][OAc]","wavenumber":1026,"absorbance":671},{"sample":"[C2mim][OAc]","wavenumber":1021,"absorbance":684},{"sample":"[C2mim][OAc]","wavenumber":1016,"absorbance":671},{"sample":"[C2mim][OAc]","wavenumber":1010,"absorbance":626},{"sample":"[C2mim][OAc]","wavenumber":1004,"absorbance":599},{"sample":"[C2mim][OAc]","wavenumber":998,"absorbance":594},{"sample":"[C2mim][OAc]","wavenumber":992,"absorbance":585},{"sample":"[C2mim][OAc]","wavenumber":983,"absorbance":451},{"sample":"[C2mim][OAc]","wavenumber":973,"absorbance":410},{"sample":"[C2mim][OAc]","wavenumber":961,"absorbance":366},{"sample":"[C2mim][OAc]","wavenumber":946,"absorbance":312},{"sample":"[C2mim][OAc]","wavenumber":930,"absorbance":298},{"sample":"[C2mim][OAc]","wavenumber":918,"absorbance":285},{"sample":"[C2mim][OAc]","wavenumber":909,"absorbance":294},{"sample":"[C2mim][OAc]","wavenumber":897,"absorbance":307},{"sample":"[C2mim][OAc]","wavenumber":887,"absorbance":285},{"sample":"[C2mim][OAc]","wavenumber":878,"absorbance":249},{"sample":"[C2mim][OAc]","wavenumber":869,"absorbance":242},{"sample":"[C2mim][OAc]","wavenumber":857,"absorbance":250},{"sample":"[C2mim][OAc]","wavenumber":845,"absorbance":257},{"sample":"[C2mim][OAc]","wavenumber":833,"absorbance":260},{"sample":"[C2mim][OAc]","wavenumber":814,"absorbance":264},{"sample":"[C2mim][OAc]","wavenumber":783,"absorbance":269},{"sample":"[C2mim][OAc]","wavenumber":752,"absorbance":279},{"sample":"[C2mim][OAc]","wavenumber":721,"absorbance":289},{"sample":"[C2mim][OAc]","wavenumber":697,"absorbance":294},{"sample":"[C2mim][OAc]","wavenumber":684,"absorbance":299},{"sample":"[C2mim][OAc]","wavenumber":678,"absorbance":312},{"sample":"[C2mim][OAc]","wavenumber":672,"absorbance":327},{"sample":"[C2mim][OAc]","wavenumber":663,"absorbance":328},{"sample":"[C2mim][OAc]","wavenumber":653,"absorbance":326},{"sample":"[C2mim][OAc]","wavenumber":641,"absorbance":327},{"sample":"[C2mim][OAc]","wavenumber":628,"absorbance":330},{"sample":"[C2mim][OAc]","wavenumber":622,"absorbance":334},{"sample":"[C2mim][OAc]","wavenumber":616,"absorbance":337},{"sample":"[C2mim][OAc]","wavenumber":604,"absorbance":344},{"sample":"[C2mim][OAc]","wavenumber":598,"absorbance":345},{"sample":"[C2mim][OAc]","wavenumber":582,"absorbance":341},{"sample":"[C2mim][OAc]","wavenumber":567,"absorbance":343},{"sample":"[C2mim][OAc]","wavenumber":551,"absorbance":340},{"sample":"[C2mim][OAc]","wavenumber":542,"absorbance":336},{"sample":"[C2mim][OAc]","wavenumber":536,"absorbance":337},{"sample":"[C2mim][OAc]","wavenumber":527,"absorbance":340},{"sample":"[C2mim][OAc]","wavenumber":520,"absorbance":339},{"sample":"[C2mim][OAc]","wavenumber":505,"absorbance":335},{"sample":"[C2mim][OAc]","wavenumber":489,"absorbance":334},{"sample":"[C2mim][OAc]","wavenumber":474,"absorbance":334},{"sample":"[C2mim][OAc]","wavenumber":458,"absorbance":332},{"sample":"[C2mim][OAc]","wavenumber":443,"absorbance":327},{"sample":"[C2mim][OAc]","wavenumber":428,"absorbance":325},{"sample":"[C2mim][OAc]","wavenumber":421,"absorbance":323},{"sample":"[C2mim][OAc]","wavenumber":412,"absorbance":319},

{"sample":"[SE] + [C2mim][OAc]","wavenumber":2000,"absorbance":252},{"sample":"[SE] + [C2mim][OAc]","wavenumber":1990,"absorbance":249},{"sample":"[SE] + [C2mim][OAc]","wavenumber":1981,"absorbance":255},{"sample":"[SE] + [C2mim][OAc]","wavenumber":1970,"absorbance":249},{"sample":"[SE] + [C2mim][OAc]","wavenumber":1960,"absorbance":259},{"sample":"[SE] + [C2mim][OAc]","wavenumber":1950,"absorbance":252},{"sample":"[SE] + [C2mim][OAc]","wavenumber":1935,"absorbance":256},{"sample":"[SE] + [C2mim][OAc]","wavenumber":1919,"absorbance":255},{"sample":"[SE] + [C2mim][OAc]","wavenumber":1900,"absorbance":256},{"sample":"[SE] + [C2mim][OAc]","wavenumber":1888,"absorbance":255},{"sample":"[SE] + [C2mim][OAc]","wavenumber":1870,"absorbance":258},{"sample":"[SE] + [C2mim][OAc]","wavenumber":1857,"absorbance":254},{"sample":"[SE] + [C2mim][OAc]","wavenumber":1845,"absorbance":257},{"sample":"[SE] + [C2mim][OAc]","wavenumber":1826,"absorbance":255},{"sample":"[SE] + [C2mim][OAc]","wavenumber":1815,"absorbance":254},{"sample":"[SE] + [C2mim][OAc]","wavenumber":1796,"absorbance":257},{"sample":"[SE] + [C2mim][OAc]","wavenumber":1777,"absorbance":259},{"sample":"[SE] + [C2mim][OAc]","wavenumber":1765,"absorbance":264},{"sample":"[SE] + [C2mim][OAc]","wavenumber":1755,"absorbance":275},{"sample":"[SE] + [C2mim][OAc]","wavenumber":1746,"absorbance":305},{"sample":"[SE] + [C2mim][OAc]","wavenumber":1736,"absorbance":337},{"sample":"[SE] + [C2mim][OAc]","wavenumber":1727,"absorbance":339},{"sample":"[SE] + [C2mim][OAc]","wavenumber":1717,"absorbance":343},{"sample":"[SE] + [C2mim][OAc]","wavenumber":1709,"absorbance":322},{"sample":"[SE] + [C2mim][OAc]","wavenumber":1700,"absorbance":314},{"sample":"[SE] + [C2mim][OAc]","wavenumber":1693,"absorbance":304},{"sample":"[SE] + [C2mim][OAc]","wavenumber":1684,"absorbance":312},{"sample":"[SE] + [C2mim][OAc]","wavenumber":1672,"absorbance":320},{"sample":"[SE] + [C2mim][OAc]","wavenumber":1662,"absorbance":329},{"sample":"[SE] + [C2mim][OAc]","wavenumber":1653,"absorbance":345},{"sample":"[SE] + [C2mim][OAc]","wavenumber":1644,"absorbance":339},{"sample":"[SE] + [C2mim][OAc]","wavenumber":1636,"absorbance":344},{"sample":"[SE] + [C2mim][OAc]","wavenumber":1625,"absorbance":332},{"sample":"[SE] + [C2mim][OAc]","wavenumber":1616,"absorbance":324},{"sample":"[SE] + [C2mim][OAc]","wavenumber":1599,"absorbance":312},{"sample":"[SE] + [C2mim][OAc]","wavenumber":1588,"absorbance":310},{"sample":"[SE] + [C2mim][OAc]","wavenumber":1573,"absorbance":300},{"sample":"[SE] + [C2mim][OAc]","wavenumber":1560,"absorbance":305},{"sample":"[SE] + [C2mim][OAc]","wavenumber":1548,"absorbance":287},{"sample":"[SE] + [C2mim][OAc]","wavenumber":1539,"absorbance":294},{"sample":"[SE] + [C2mim][OAc]","wavenumber":1529,"absorbance":282},{"sample":"[SE] + [C2mim][OAc]","wavenumber":1520,"absorbance":297},{"sample":"[SE] + [C2mim][OAc]","wavenumber":1511,"absorbance":305},{"sample":"[SE] + [C2mim][OAc]","wavenumber":1507,"absorbance":310},{"sample":"[SE] + [C2mim][OAc]","wavenumber":1502,"absorbance":289},{"sample":"[SE] + [C2mim][OAc]","wavenumber":1492,"absorbance":282},{"sample":"[SE] + [C2mim][OAc]","wavenumber":1485,"absorbance":275},{"sample":"[SE] + [C2mim][OAc]","wavenumber":1474,"absorbance":297},{"sample":"[SE] + [C2mim][OAc]","wavenumber":1458,"absorbance":317},{"sample":"[SE] + [C2mim][OAc]","wavenumber":1443,"absorbance":310},{"sample":"[SE] + [C2mim][OAc]","wavenumber":1430,"absorbance":319},{"sample":"[SE] + [C2mim][OAc]","wavenumber":1420,"absorbance":324},{"sample":"[SE] + [C2mim][OAc]","wavenumber":1406,"absorbance":302},{"sample":"[SE] + [C2mim][OAc]","wavenumber":1393,"absorbance":305},{"sample":"[SE] + [C2mim][OAc]","wavenumber":1381,"absorbance":332},{"sample":"[SE] + [C2mim][OAc]","wavenumber":1369,"absorbance":349},{"sample":"[SE] + [C2mim][OAc]","wavenumber":1359,"absorbance":339},{"sample":"[SE] + [C2mim][OAc]","wavenumber":1350,"absorbance":319},{"sample":"[SE] + [C2mim][OAc]","wavenumber":1338,"absorbance":324},{"sample":"[SE] + [C2mim][OAc]","wavenumber":1325,"absorbance":327},{"sample":"[SE] + [C2mim][OAc]","wavenumber":1316,"absorbance":332},{"sample":"[SE] + [C2mim][OAc]","wavenumber":1294,"absorbance":317},{"sample":"[SE] + [C2mim][OAc]","wavenumber":1279,"absorbance":329},{"sample":"[SE] + [C2mim][OAc]","wavenumber":1263,"absorbance":370},{"sample":"[SE] + [C2mim][OAc]","wavenumber":1248,"absorbance":380},{"sample":"[SE] + [C2mim][OAc]","wavenumber":1237,"absorbance":382},{"sample":"[SE] + [C2mim][OAc]","wavenumber":1226,"absorbance":359},{"sample":"[SE] + [C2mim][OAc]","wavenumber":1214,"absorbance":325},{"sample":"[SE] + [C2mim][OAc]","wavenumber":1201,"absorbance":324},{"sample":"[SE] + [C2mim][OAc]","wavenumber":1186,"absorbance":300},{"sample":"[SE] + [C2mim][OAc]","wavenumber":1171,"absorbance":325},{"sample":"[SE] + [C2mim][OAc]","wavenumber":1161,"absorbance":380},{"sample":"[SE] + [C2mim][OAc]","wavenumber":1155,"absorbance":386},{"sample":"[SE] + [C2mim][OAc]","wavenumber":1149,"absorbance":370},{"sample":"[SE] + [C2mim][OAc]","wavenumber":1140,"absorbance":354},{"sample":"[SE] + [C2mim][OAc]","wavenumber":1130,"absorbance":370},{"sample":"[SE] + [C2mim][OAc]","wavenumber":1121,"absorbance":397},{"sample":"[SE] + [C2mim][OAc]","wavenumber":1112,"absorbance":433},{"sample":"[SE] + [C2mim][OAc]","wavenumber":1104,"absorbance":451},{"sample":"[SE] + [C2mim][OAc]","wavenumber":1096,"absorbance":473},{"sample":"[SE] + [C2mim][OAc]","wavenumber":1087,"absorbance":482},{"sample":"[SE] + [C2mim][OAc]","wavenumber":1078,"absorbance":514},{"sample":"[SE] + [C2mim][OAc]","wavenumber":1069,"absorbance":567},{"sample":"[SE] + [C2mim][OAc]","wavenumber":1060,"absorbance":599},{"sample":"[SE] + [C2mim][OAc]","wavenumber":1053,"absorbance":612},{"sample":"[SE] + [C2mim][OAc]","wavenumber":1044,"absorbance":622},{"sample":"[SE] + [C2mim][OAc]","wavenumber":1037,"absorbance":628},{"sample":"[SE] + [C2mim][OAc]","wavenumber":1032,"absorbance":648},{"sample":"[SE] + [C2mim][OAc]","wavenumber":1026,"absorbance":671},{"sample":"[SE] + [C2mim][OAc]","wavenumber":1021,"absorbance":685},{"sample":"[SE] + [C2mim][OAc]","wavenumber":1016,"absorbance":675},{"sample":"[SE] + [C2mim][OAc]","wavenumber":1010,"absorbance":644},{"sample":"[SE] + [C2mim][OAc]","wavenumber":1004,"absorbance":617},{"sample":"[SE] + [C2mim][OAc]","wavenumber":998,"absorbance":612},{"sample":"[SE] + [C2mim][OAc]","wavenumber":992,"absorbance":594},{"sample":"[SE] + [C2mim][OAc]","wavenumber":983,"absorbance":482},{"sample":"[SE] + [C2mim][OAc]","wavenumber":973,"absorbance":442},{"sample":"[SE] + [C2mim][OAc]","wavenumber":961,"absorbance":397},{"sample":"[SE] + [C2mim][OAc]","wavenumber":946,"absorbance":352},{"sample":"[SE] + [C2mim][OAc]","wavenumber":930,"absorbance":343},{"sample":"[SE] + [C2mim][OAc]","wavenumber":918,"absorbance":336},{"sample":"[SE] + [C2mim][OAc]","wavenumber":909,"absorbance":345},{"sample":"[SE] + [C2mim][OAc]","wavenumber":897,"absorbance":357},{"sample":"[SE] + [C2mim][OAc]","wavenumber":887,"absorbance":334},{"sample":"[SE] + [C2mim][OAc]","wavenumber":878,"absorbance":307},{"sample":"[SE] + [C2mim][OAc]","wavenumber":869,"absorbance":300},{"sample":"[SE] + [C2mim][OAc]","wavenumber":857,"absorbance":310},{"sample":"[SE] + [C2mim][OAc]","wavenumber":845,"absorbance":317},{"sample":"[SE] + [C2mim][OAc]","wavenumber":833,"absorbance":320},{"sample":"[SE] + [C2mim][OAc]","wavenumber":814,"absorbance":324},{"sample":"[SE] + [C2mim][OAc]","wavenumber":783,"absorbance":330},{"sample":"[SE] + [C2mim][OAc]","wavenumber":752,"absorbance":340},{"sample":"[SE] + [C2mim][OAc]","wavenumber":721,"absorbance":349},{"sample":"[SE] + [C2mim][OAc]","wavenumber":697,"absorbance":354},{"sample":"[SE] + [C2mim][OAc]","wavenumber":684,"absorbance":357},{"sample":"[SE] + [C2mim][OAc]","wavenumber":678,"absorbance":369},{"sample":"[SE] + [C2mim][OAc]","wavenumber":672,"absorbance":384},{"sample":"[SE] + [C2mim][OAc]","wavenumber":663,"absorbance":386},{"sample":"[SE] + [C2mim][OAc]","wavenumber":653,"absorbance":384},{"sample":"[SE] + [C2mim][OAc]","wavenumber":641,"absorbance":386},{"sample":"[SE] + [C2mim][OAc]","wavenumber":628,"absorbance":388},{"sample":"[SE] + [C2mim][OAc]","wavenumber":622,"absorbance":390},{"sample":"[SE] + [C2mim][OAc]","wavenumber":616,"absorbance":397},{"sample":"[SE] + [C2mim][OAc]","wavenumber":604,"absorbance":400},{"sample":"[SE] + [C2mim][OAc]","wavenumber":598,"absorbance":401},{"sample":"[SE] + [C2mim][OAc]","wavenumber":582,"absorbance":398},{"sample":"[SE] + [C2mim][OAc]","wavenumber":567,"absorbance":399},{"sample":"[SE] + [C2mim][OAc]","wavenumber":551,"absorbance":399},{"sample":"[SE] + [C2mim][OAc]","wavenumber":542,"absorbance":395},{"sample":"[SE] + [C2mim][OAc]","wavenumber":536,"absorbance":395},{"sample":"[SE] + [C2mim][OAc]","wavenumber":520,"absorbance":397},{"sample":"[SE] + [C2mim][OAc]","wavenumber":505,"absorbance":392},{"sample":"[SE] + [C2mim][OAc]","wavenumber":489,"absorbance":389},{"sample":"[SE] + [C2mim][OAc]","wavenumber":474,"absorbance":386},{"sample":"[SE] + [C2mim][OAc]","wavenumber":458,"absorbance":384},{"sample":"[SE] + [C2mim][OAc]","wavenumber":443,"absorbance":380},{"sample":"[SE] + [C2mim][OAc]","wavenumber":428,"absorbance":379},{"sample":"[SE] + [C2mim][OAc]","wavenumber":421,"absorbance":375},{"sample":"[SE] + [C2mim][OAc]","wavenumber":412,"absorbance":374}
]
},
"layer": [
{
"data": {"name": "spectra"},
"mark": {"type": "line", "strokeWidth": 2.4, "clip": true, "interpolate": "monotone"},
"encoding": {
"x": {"field": "wavenumber", "type": "quantitative",
"scale": {"domain": [2000, 412], "nice": false, "zero": false},
"axis": {"orient": "bottom", "values": [1900,1800,1700,1600,1500,1400,1300,1200,1100,1000,900,800,700,600,500],
"format": "d", "grid": false, "domainColor": "#C4C4C4", "domainWidth": 3,
"tickColor": "#333333", "tickSize": 6, "tickWidth": 1.5, "tickOffset": 0,
"labelFont": "Liberation Serif", "labelFontWeight": "bold", "labelFontSize": 14, "labelColor": "#222222", "labelPadding": 1,
"title": "Wavenumbers (cm-1)", "titleFont": "Liberation Serif", "titleFontSize": 12, "titleFontWeight": "bold", "titleColor": "#222222", "titlePadding": 7}},
"y": {"field": "absorbance", "type": "quantitative", "scale": {"domain": [0, 737], "nice": false, "zero": false}, "axis": null},
"color": {"field": "sample", "type": "nominal",
"scale": {"domain": ["[SE] + [C2mim][OAc]", "[C2mim][OAc]", "[SE] + [TEA][HSO4]", "[TEA][HSO4]", "[SE]", "Untreated"],
"range": ["#C81E1E", "#6E1E78", "#2EDB2E", "#3EE0E6", "#D22CD2", "#1616A8"]},
"legend": {"orient": "none", "legendX": -11, "legendY": 9, "title": null,
"labelFont": "Liberation Serif", "labelFontSize": 19, "labelFontWeight": "bold", "labelLimit": 0,
"symbolSize": 0, "symbolStrokeWidth": 0, "symbolOpacity": 0, "labelOffset": 0, "rowPadding": 4, "padding": 0,
"encode": {"labels": {"update": {"fill": {"scale": "color", "field": "value"}}}}}}
}
},
{
"data": {"name": "peaks"},
"mark": {"type": "rule", "strokeDash": [7, 4], "strokeWidth": 2, "color": "#000000"},
"encoding": {
"x": {"field": "pos", "type": "quantitative",
"axis": {"orient": "bottom", "values": [1975,1950,1925,1875,1850,1825,1775,1750,1725,1675,1650,1625,1575,1550,1525,1475,1450,1425,1375,1350,1325,1275,1250,1225,1175,1150,1125,1075,1050,1025,975,950,925,875,850,825,775,750,725,675,650,625,575,550,525,475,450,425],
"domain": false, "labels": false, "title": null, "grid": false, "tickColor": "#333333", "tickSize": 3, "tickWidth": 1.2, "tickOffset": 0}},
"y": {"field": "top", "type": "quantitative"},
"y2": {"datum": 0}
}
},
{
"data": {"name": "peaks"},
"mark": {"type": "text", "font": "Liberation Serif", "fontSize": 26, "fontWeight": "bold", "color": "#000000", "align": "center", "baseline": "alphabetic"},
"encoding": {
"x": {"field": "pos", "type": "quantitative", "axis": null},
"y": {"field": "ly", "type": "quantitative"},
"text": {"field": "label", "type": "nominal"}
}
}
]
}
